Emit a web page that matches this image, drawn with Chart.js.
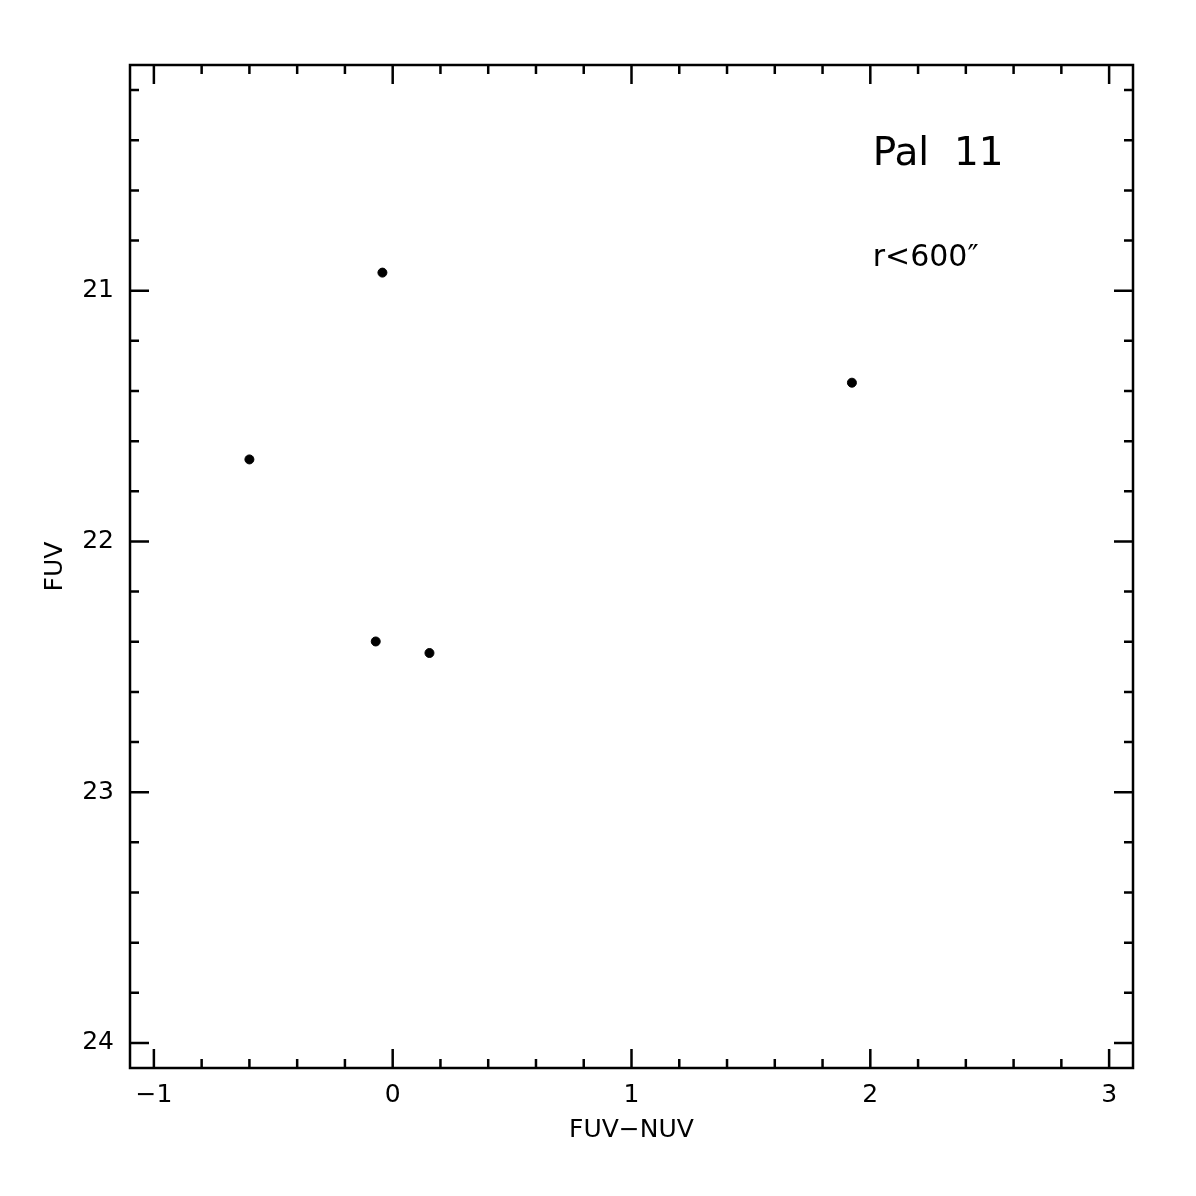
<!DOCTYPE html>
<html>
<head>
<meta charset="utf-8">
<script src="https://cdn.jsdelivr.net/npm/chart.js@4"></script>
<style>
  html, body { margin: 0; padding: 0; background: #fff; }
  #wrap { width: 1196px; height: 1196px; }
</style>
</head>
<body>
<div id="wrap"><canvas id="cmd"></canvas></div>
<script>
// FUV-NUV colour vs FUV magnitude, Pal 11, r<600"
const colourFUVNUV = [-0.043, 1.923, -0.600, -0.071, 0.154];
const magFUV = [20.928, 21.367, 21.673, 22.399, 22.445];

const xMajorTicks = [-1, 0, 1, 2, 3];
const yMajorTicks = [21, 22, 23, 24];
const xMinorStep = 0.2;
const yMinorStep = 0.2;

const points = colourFUVNUV.map((c, i) => ({ x: c, y: magFUV[i] }));

const fmt = (v) => String(v).replace("-", "\u2212");

// box frame + inward ticks on all four sides, plus the labels
const framePlugin = {
  id: "frame",
  afterDraw(chart) {
    const { ctx, chartArea: a, scales } = chart;
    const xs = scales.x, ys = scales.y;
    ctx.save();
    ctx.strokeStyle = "#000";
    ctx.lineWidth = 2.5;
    ctx.lineCap = "butt";
    ctx.strokeRect(a.left, a.top, a.right - a.left, a.bottom - a.top);

    const major = 19, minor = 9;
    ctx.beginPath();
    for (let v = -1; v <= 3.0001; v += xMinorStep) {
      const r = Math.round(v * 10) / 10;
      const len = Number.isInteger(r) ? major : minor;
      const px = xs.getPixelForValue(r);
      ctx.moveTo(px, a.bottom); ctx.lineTo(px, a.bottom - len);
      ctx.moveTo(px, a.top); ctx.lineTo(px, a.top + len);
    }
    for (let v = 20.2; v <= 24.0001; v += yMinorStep) {
      const r = Math.round(v * 10) / 10;
      const len = Number.isInteger(r) ? major : minor;
      const py = ys.getPixelForValue(r);
      ctx.moveTo(a.left, py); ctx.lineTo(a.left + len, py);
      ctx.moveTo(a.right, py); ctx.lineTo(a.right - len, py);
    }
    ctx.stroke();

    ctx.fillStyle = "#000";
    ctx.textBaseline = "alphabetic";
    ctx.textAlign = "left";
    ctx.font = "39px 'DejaVu Sans'";
    ctx.fillText("Pal  11", xs.getPixelForValue(2.01), ys.getPixelForValue(20.5));
    ctx.font = "30px 'DejaVu Sans'";
    ctx.fillText("r<600\u2033", xs.getPixelForValue(2.01), ys.getPixelForValue(20.9));
    ctx.restore();
  }
};

new Chart(document.getElementById("cmd"), {
  type: "scatter",
  data: {
    datasets: [{
      data: points,
      backgroundColor: "#000",
      borderColor: "#000",
      pointRadius: 4.5,
      pointHoverRadius: 4.5
    }]
  },
  options: {
    responsive: true,
    maintainAspectRatio: false,
    animation: false,
    layout: { padding: { top: 65, right: 63, left: 0, bottom: 0 } },
    plugins: { legend: { display: false }, tooltip: { enabled: false } },
    scales: {
      x: {
        type: "linear",
        min: -1.1,
        max: 3.1,
        afterBuildTicks: (s) => { s.ticks = xMajorTicks.map(v => ({ value: v })); },
        afterFit: (s) => { s.height = 128; },
        grid: { display: false, drawTicks: false },
        border: { display: false },
        ticks: {
          color: "#000",
          font: { family: "DejaVu Sans", size: 25 },
          padding: 12,
          maxRotation: 0,
          callback: (v) => fmt(v)
        },
        title: {
          display: true,
          text: "FUV\u2212NUV",
          color: "#000",
          font: { family: "DejaVu Sans", size: 25 },
          padding: { top: 0, bottom: 51 }
        }
      },
      y: {
        type: "linear",
        reverse: true,
        min: 20.1,
        max: 24.1,
        afterBuildTicks: (s) => { s.ticks = yMajorTicks.map(v => ({ value: v })); },
        afterFit: (s) => { s.width = 130; },
        grid: { display: false, drawTicks: false },
        border: { display: false },
        ticks: {
          color: "#000",
          font: { family: "DejaVu Sans", size: 25 },
          padding: 16,
          callback: (v) => fmt(v)
        },
        title: {
          display: true,
          text: "FUV",
          color: "#000",
          font: { family: "DejaVu Sans", size: 25 },
          padding: { top: 40, bottom: 0 }
        }
      }
    }
  },
  plugins: [framePlugin]
});
</script>
</body>
</html>
